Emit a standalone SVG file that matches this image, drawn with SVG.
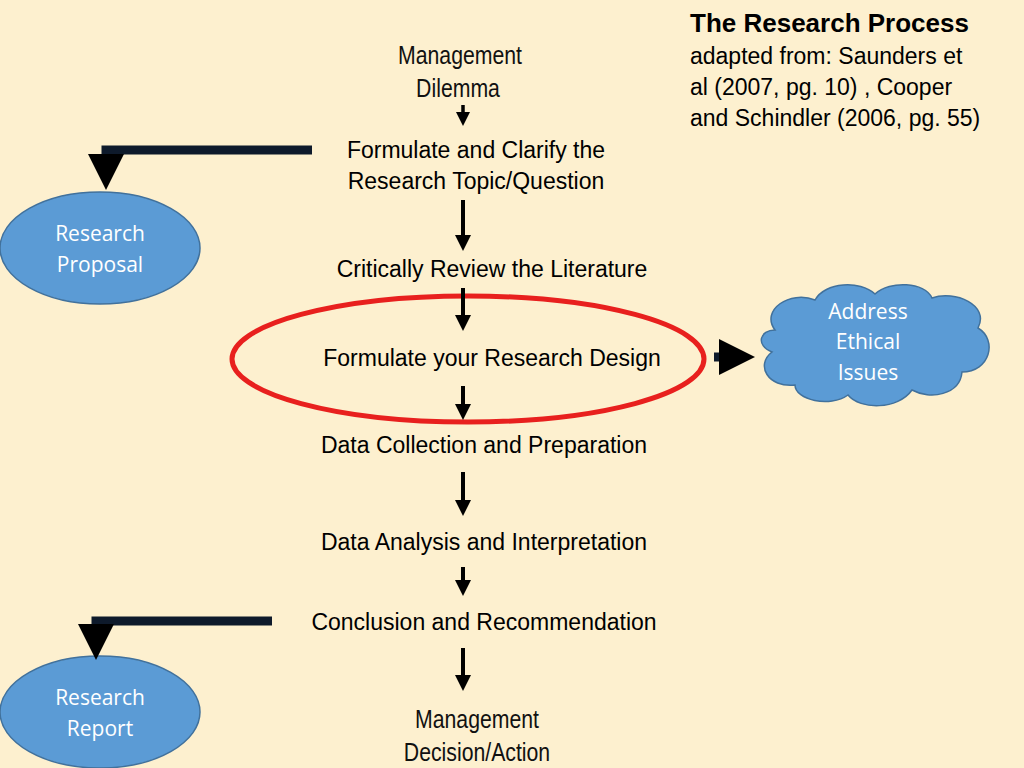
<svg xmlns="http://www.w3.org/2000/svg" width="1024" height="768" viewBox="0 0 1024 768">
<defs>
<style>
.t{font-family:"Liberation Sans",Arial,sans-serif;font-size:23px;fill:#000}
.m{font-family:"Liberation Sans Narrow","Liberation Sans",Arial,sans-serif;font-size:25px;fill:#111}
.w{font-family:"Open Sans","Liberation Sans",sans-serif;font-size:21px;fill:#fff}
.ell{fill:#5B9BD5;stroke:#41719C;stroke-width:1.5}
.dn{fill:#000}
</style>
<marker id="ah" markerWidth="4" markerHeight="4" refX="2" refY="2" orient="auto" markerUnits="strokeWidth"><path d="M0,0L4,2L0,4z" fill="#000"/></marker>
</defs>
<rect width="1024" height="768" fill="#FDF0CF"/>
<g id="title">
<text x="690" y="32" class="t" style="font-weight:bold;font-size:26px">The Research Process</text>
<text x="690" y="64" class="t">adapted from: Saunders et</text>
<text x="690" y="95" class="t">al (2007, pg. 10) , Cooper</text>
<text x="690" y="126" class="t">and Schindler (2006, pg. 55)</text>
</g>
<g id="mgmt-dilemma"><text x="460" y="64" class="m" text-anchor="middle" transform="translate(460,0) scale(0.85,1) translate(-460,0)">Management</text><text x="458" y="97" class="m" text-anchor="middle" transform="translate(458,0) scale(0.85,1) translate(-458,0)">Dilemma</text></g>
<g id="formulate"><text x="476" y="158" class="t" text-anchor="middle">Formulate and Clarify the</text><text x="476" y="189" class="t" text-anchor="middle">Research Topic/Question</text></g>
<g id="review"><text x="492" y="277" class="t" text-anchor="middle">Critically Review the Literature</text></g>
<g id="design"><ellipse cx="468" cy="359" rx="236" ry="63" fill="none" stroke="#E8201E" stroke-width="5"/><text x="492" y="366" class="t" text-anchor="middle">Formulate your Research Design</text></g>
<g id="collection"><text x="484" y="453" class="t" text-anchor="middle">Data Collection and Preparation</text></g>
<g id="analysis"><text x="484" y="550" class="t" text-anchor="middle">Data Analysis and Interpretation</text></g>
<g id="conclusion"><text x="484" y="630" class="t" text-anchor="middle">Conclusion and Recommendation</text></g>
<g id="mgmt-decision"><text x="477" y="728" class="m" text-anchor="middle" transform="translate(477,0) scale(0.85,1) translate(-477,0)">Management</text><text x="477" y="761" class="m" text-anchor="middle" transform="translate(477,0) scale(0.85,1) translate(-477,0)">Decision/Action</text></g>
<g id="proposal"><ellipse cx="100" cy="248" rx="100" ry="56" class="ell"/><text x="100" y="241" class="w" text-anchor="middle">Research</text><text x="100" y="272" class="w" text-anchor="middle">Proposal</text></g>
<g id="report"><ellipse cx="100" cy="712" rx="100" ry="56" class="ell"/><text x="100" y="705" class="w" text-anchor="middle">Research</text><text x="100" y="736" class="w" text-anchor="middle">Report</text></g>
<g id="ethics">
<path d="M775,330 C760,310 790,290 815,300 C825,282 860,280 875,294 C890,280 925,282 932,298 C955,290 990,305 978,328 C998,340 990,372 962,372 C960,395 930,400 912,390 C898,410 860,410 848,395 C830,408 795,400 795,385 C768,388 755,365 772,352 C755,345 760,330 775,330 Z" class="ell"/>
<text x="868" y="319" class="w" text-anchor="middle">Address</text><text x="868" y="349" class="w" text-anchor="middle">Ethical</text><text x="868" y="380" class="w" text-anchor="middle">Issues</text>
</g>
<g id="connectors" stroke="#000" fill="none">
<line x1="463" y1="105" x2="463" y2="119" stroke-width="3.5" marker-end="url(#ah)"/>
<line x1="463" y1="200" x2="463" y2="243" stroke-width="4" marker-end="url(#ah)"/>
<line x1="463" y1="288" x2="463" y2="323" stroke-width="4" marker-end="url(#ah)"/>
<line x1="463" y1="386" x2="463" y2="412" stroke-width="4" marker-end="url(#ah)"/>
<line x1="463" y1="472" x2="463" y2="508" stroke-width="4" marker-end="url(#ah)"/>
<line x1="463" y1="567" x2="463" y2="588" stroke-width="4" marker-end="url(#ah)"/>
<line x1="463" y1="648" x2="463" y2="683" stroke-width="4" marker-end="url(#ah)"/>
<path d="M312,150 H106 V172" stroke="#0E1A2B" stroke-width="9" marker-end="url(#ah)" stroke-linejoin="miter"/>
<path d="M272,621 H96 V642" stroke="#0E1A2B" stroke-width="9" marker-end="url(#ah)" stroke-linejoin="miter"/>
<path d="M714,357 H737" stroke="#0E1A2B" stroke-width="9" marker-end="url(#ah)"/>
</g>
</svg>
